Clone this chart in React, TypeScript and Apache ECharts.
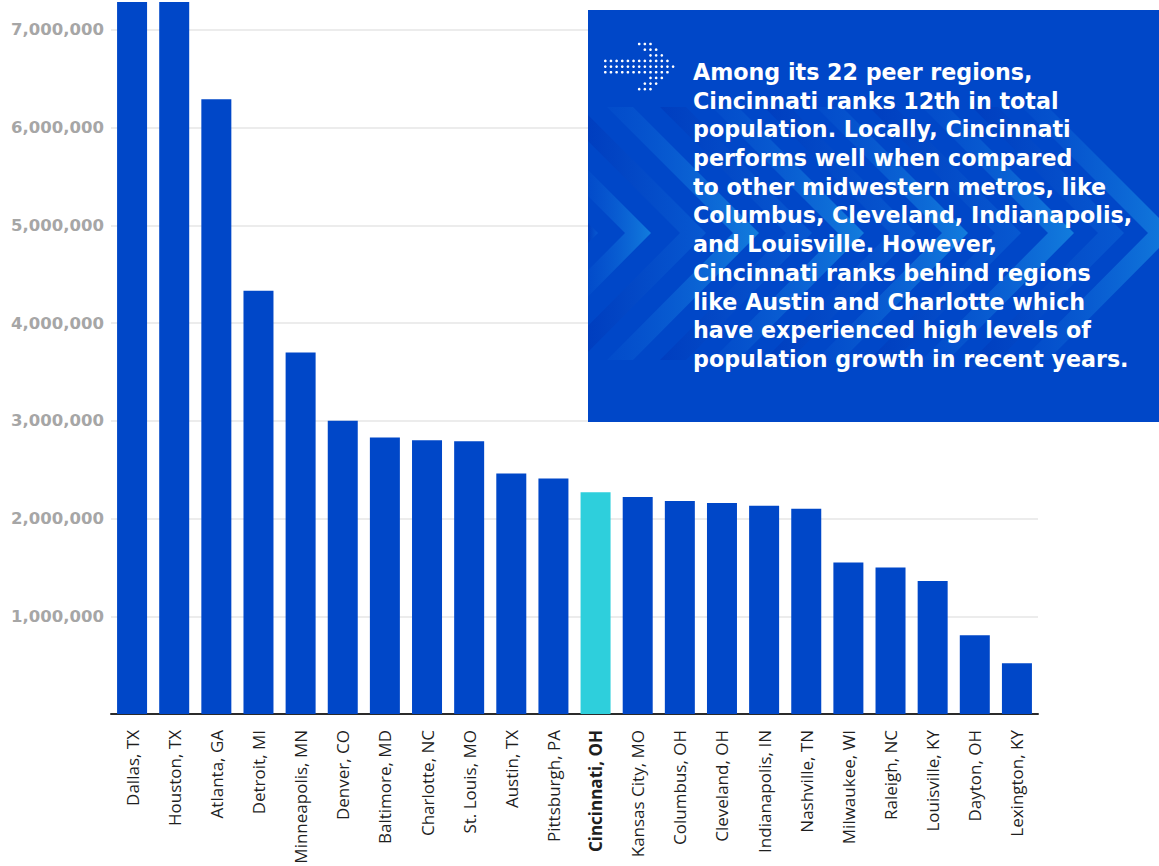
import React, { useEffect, useRef } from "react";
import * as echarts from "echarts";

const categories = [
  "Dallas, TX", "Houston, TX", "Atlanta, GA", "Detroit, MI", "Minneapolis, MN", "Denver, CO",
  "Baltimore, MD", "Charlotte, NC", "St. Louis, MO", "Austin, TX", "Pittsburgh, PA", "Cincinnati, OH",
  "Kansas City, MO", "Columbus, OH", "Cleveland, OH", "Indianapolis, IN", "Nashville, TN",
  "Milwaukee, WI", "Raleigh, NC", "Louisville, KY", "Dayton, OH", "Lexington, KY",
];
const population = [
  7637000, 7340000, 6290000, 4330000, 3700000, 3000000, 2830000, 2800000, 2790000, 2460000,
  2410000, 2270000, 2220000, 2180000, 2160000, 2130000, 2100000, 1550000, 1500000, 1360000,
  805000, 520000,
];
const highlighted = "Cincinnati, OH";
const axisMax = 7285000;
const tickStep = 1000000;

const noteLines = [
  "Among its 22 peer regions,",
  "Cincinnati ranks 12th in total",
  "population. Locally, Cincinnati",
  "performs well when compared",
  "to other midwestern metros, like",
  "Columbus, Cleveland, Indianapolis,",
  "and Louisville. However,",
  "Cincinnati ranks behind regions",
  "like Austin and Charlotte which",
  "have experienced high levels of",
  "population growth in recent years.",
];

// arrow icon dot rows: [row, firstCol, lastCol]
const arrowRows: [number, number, number][] = [
  [0, 6, 8], [1, 7, 9], [2, 8, 10], [3, 0, 11], [4, 0, 12], [5, 0, 11], [6, 8, 10], [7, 7, 9], [8, 6, 8],
];

const BAR = "#0047c8";
const HIGHLIGHT = "#2ecfdc";
const BOX = "#0047c8";

function clipLeft(pts: number[][], xmin: number): number[][] {
  const out: number[][] = [];
  for (let i = 0; i < pts.length; i++) {
    const a = pts[i];
    const b = pts[(i + 1) % pts.length];
    const ain = a[0] >= xmin;
    const bin = b[0] >= xmin;
    if (ain) out.push(a);
    if (ain !== bin) {
      const t = (xmin - a[0]) / (b[0] - a[0]);
      out.push([xmin, a[1] + t * (b[1] - a[1])]);
    }
  }
  return out;
}

export default function App() {
  const ref = useRef<HTMLDivElement>(null);
  useEffect(() => {
    if (!ref.current) return;
    const chart = echarts.init(ref.current, null, { renderer: "svg" });

    const Z = 100;
    const boxX = 588, boxY = 10, boxW = 571, boxH = 412;
    const bandTop = 107, bandBot = 360, tipY = 233, half = 126;
    const chevrons: any[] = [];
    const tips = [572, 625, 680, 733, 786, 838, 890, 942, 995, 1048, 1098, 1148];
    tips.forEach((tip, i) => {
      const w = 26;
      const pts = [
        [tip - half, bandTop], [tip - half + w, bandTop], [tip + w, tipY],
        [tip - half + w, bandBot], [tip - half, bandBot], [tip, tipY],
      ];
      const clipped = clipLeft(pts, boxX);
      if (clipped.length < 3) return;
      const light = i % 2 === 1;
      chevrons.push({
        type: "polygon",
        z: Z + 1,
        shape: { points: clipped },
        style: {
          fill: new echarts.graphic.LinearGradient(0, 0, 1, 0, light
            ? [
                { offset: 0, color: "rgba(20,110,220,0.12)" },
                { offset: 1, color: "rgba(30,160,235,0.6)" },
              ]
            : [
                { offset: 0, color: "rgba(0,45,175,0.35)" },
                { offset: 1, color: "rgba(20,120,225,0.35)" },
              ]),
        },
        silent: true,
      });
    });

    const dots: any[] = [];
    arrowRows.forEach(([r, c0, c1]) => {
      for (let c = c0; c <= c1; c++) {
        dots.push({
          type: "circle",
          z: Z + 2,
          shape: { cx: 605.3 + c * 5.65, cy: 44 + r * 5.65, r: 1.35 },
          style: { fill: "#ffffff" },
          silent: true,
        });
      }
    });

    chart.setOption({
      animation: false,
      grid: { left: 111, right: 121, top: 2, bottom: 152, containLabel: false, outerBoundsMode: "none" },
      xAxis: {
        type: "category",
        data: categories,
        axisLine: { lineStyle: { color: "#2b2b2b", width: 2 } },
        axisTick: { show: false },
        axisLabel: {
          rotate: 90,
          interval: 0,
          margin: 16,
          fontSize: 17,
          color: "#1f1f1f",
          fontFamily: "Open Sans",
          formatter: (v: string) => (v === highlighted ? `{b|${v}}` : v),
          rich: { b: { fontWeight: "bold", fontSize: 17, color: "#1f1f1f", fontFamily: "Open Sans" } },
        },
      },
      yAxis: {
        type: "value",
        min: 0,
        max: axisMax,
        interval: tickStep,
        axisLine: { show: false },
        axisTick: { show: false },
        splitLine: { show: true, showMinLine: false, showMaxLine: false, lineStyle: { color: "#e6e6e6", width: 1.5 } },
        axisLabel: {
          showMinLabel: false,
          showMaxLabel: false,
          margin: 7,
          fontSize: 16.5,
          fontWeight: "bold",
          color: "#a6a6a6",
          fontFamily: "DejaVu Sans",
          formatter: (v: number) => v.toLocaleString("en-US"),
        },
      },
      series: [
        {
          type: "bar",
          barWidth: 30,
          data: population.map((v, i) => ({
            value: v,
            itemStyle: { color: categories[i] === highlighted ? HIGHLIGHT : BAR },
          })),
        },
      ],
      graphic: [
        { type: "rect", z: Z, shape: { x: boxX, y: boxY, width: boxW, height: boxH }, style: { fill: BOX }, silent: true },
        ...chevrons,
        ...dots,
        {
          type: "text",
          z: Z + 3,
          x: 693,
          y: 57.65,
          style: {
            text: noteLines.join("\n"),
            fill: "#ffffff",
            fontSize: 22.2,
            lineHeight: 28.7,
            fontWeight: "bold",
            fontFamily: "DejaVu Sans",
            verticalAlign: "top",
            align: "left",
          },
          silent: true,
        },
      ],
    });
    return () => chart.dispose();
  }, []);
  return <div ref={ref} style={{ position: "fixed", left: 0, top: 0, width: 1159, height: 866, background: "#ffffff" }} />;
}
